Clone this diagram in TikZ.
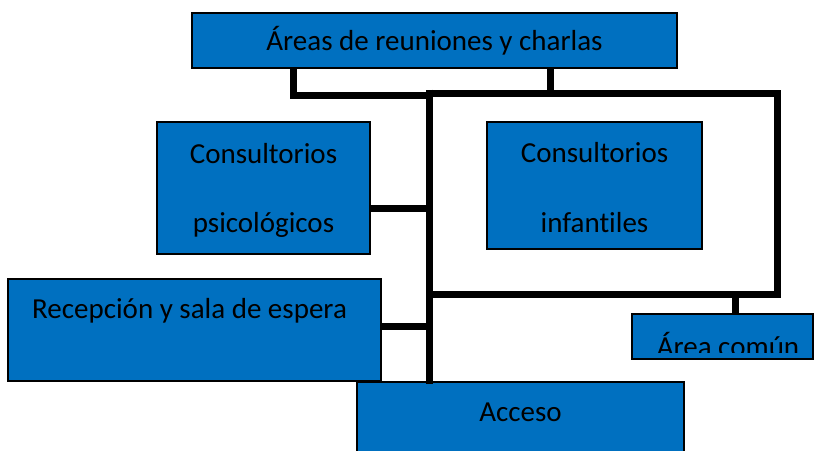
\documentclass[tikz,border=0pt]{standalone}
\usepackage{fontspec}
\setmainfont[Ligatures={NoCommon}]{Carlito}
\definecolor{boxblue}{RGB}{0,112,192}
\tikzset{
  roombox/.style={draw=black, line width=1.6pt, fill=boxblue, rectangle, inner sep=0pt},
  lbl/.style={anchor=base, inner sep=0pt, font=\fontsize{29}{34}\selectfont, text=black},
  wall/.style={line width=7pt, line cap=butt, line join=miter}
}
\begin{document}
\begin{tikzpicture}[x=1pt,y=-1pt]
\useasboundingbox (0,0) rectangle (814,450);
% boxes
\node[roombox, minimum width=485, minimum height=55] (top) at (434.5,40.5) {};
\node[roombox, minimum width=213, minimum height=132] (psico) at (263.5,188) {};
\node[roombox, minimum width=215, minimum height=127] (infan) at (594.5,185.5) {};
\node[roombox, minimum width=373, minimum height=102] (recep) at (194.5,330) {};
\node[roombox, minimum width=327, minimum height=80] (acceso) at (520.5,422) {};
\node[roombox, minimum width=181, minimum height=45] (comun) at (722.5,336.5) {};
% labels
\node[lbl] (ttop) at (434.5,50.5) {Áreas de reuniones y charlas};
\node[lbl] (tpsico1) at (263.5,163) {Consultorios};
\node[lbl] (tpsico2) at (263.5,232) {psicológicos};
\node[lbl] (tinf1) at (594.5,162) {Consultorios};
\node[lbl] (tinf2) at (594.5,232) {infantiles};
\node[lbl, anchor=base west] (trecep) at (32,318) {Recepción y sala de espera};
\node[lbl] (tacceso) at (520.5,421) {Acceso};
\begin{scope}
\clip (633,315) rectangle (812,352);
\node[lbl] (tcomun) at (728,356) {Área común};
\end{scope}
% coordinates
\coordinate (a1) at (293,95);
\coordinate (a2) at (429.5,95);
\coordinate (b1) at (550,93);
\coordinate (tl) at (429.5,93);
\coordinate (tr) at (777,93);
\coordinate (br) at (777,294);
\coordinate (bl) at (429.5,294);
\coordinate (vbot) at (429.5,384);
\coordinate (vtop) at (429.5,89.5);
\coordinate (cpsico) at (429.5,208.5);
\coordinate (crecep) at (429.5,326);
\coordinate (ccomun) at (735.5,294);
% walls
\draw[wall] (top.south -| a1) -- (a1) -- (a2);
\draw[wall] (top.south -| b1) -- (b1);
\draw[wall] (tl) -- (tr) -- (br) -- (bl);
\draw[wall] (vtop) -- (vbot);
\draw[wall] (psico.east |- cpsico) -- (cpsico);
\draw[wall] (recep.east |- crecep) -- (crecep);
\draw[wall] (ccomun) -- (comun.north -| ccomun);
\end{tikzpicture}
\end{document}
